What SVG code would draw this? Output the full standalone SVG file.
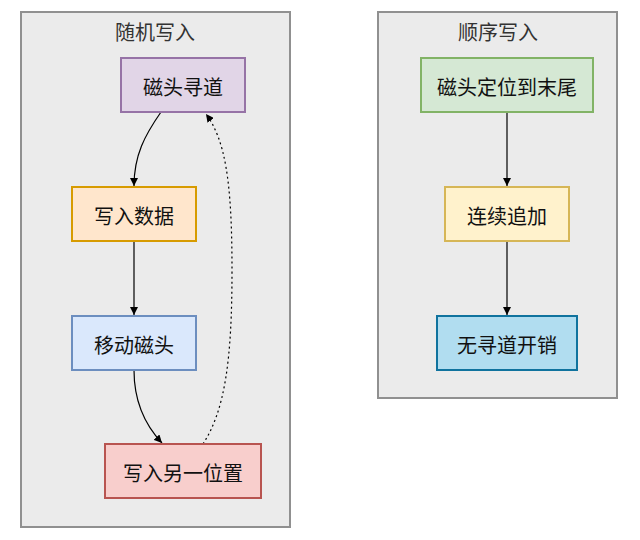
<svg xmlns="http://www.w3.org/2000/svg" width="640" height="540" viewBox="0 0 640 540">
<style>
text{font-family:"Noto Sans CJK SC","Noto Sans",sans-serif;font-size:20px;text-anchor:middle;dominant-baseline:central}
.title{fill:#333}
.lbl{fill:#111}
.cluster{fill:#ebebeb;stroke:#909090;stroke-width:2}
.node rect{stroke-width:2}
.edge{fill:none;stroke:#000;stroke-width:1.2}
</style>
<defs>
<marker id="ah" viewBox="0 0 10 10" refX="10" refY="5" markerWidth="8" markerHeight="8" markerUnits="userSpaceOnUse" orient="auto"><path d="M0,0 L10,5 L0,10 z" fill="#000"/></marker>
</defs>
<g id="cluster-random">
<rect class="cluster" x="21" y="12" width="269" height="515"/>
<text class="title" x="155" y="31">随机写入</text>
</g>
<g id="cluster-seq">
<rect class="cluster" x="378" y="12" width="239" height="386"/>
<text class="title" x="498" y="31">顺序写入</text>
</g>
<g id="edges">
<path class="edge" d="M161,112 C145,135 134,155 134,186" marker-end="url(#ah)"/>
<path class="edge" d="M134,241 L134,315" marker-end="url(#ah)"/>
<path class="edge" d="M134,370 C134,400 145,425 162,443" marker-end="url(#ah)"/>
<path class="edge" d="M203,444 C225,410 232,360 232,270 C232,180 225,140 206,114" stroke-dasharray="2,3" marker-end="url(#ah)"/>
<path class="edge" d="M507,112 L507,186" marker-end="url(#ah)"/>
<path class="edge" d="M507,241 L507,315" marker-end="url(#ah)"/>
</g>
<g id="n1" class="node"><rect x="121" y="58" width="124" height="54" fill="#e1d5e7" stroke="#9673a6"/><text class="lbl" x="183" y="86.5">磁头寻道</text></g>
<g id="n2" class="node"><rect x="72" y="187" width="124" height="54" fill="#ffe6cc" stroke="#d79b00"/><text class="lbl" x="134" y="215.5">写入数据</text></g>
<g id="n3" class="node"><rect x="72" y="316" width="124" height="54" fill="#dae8fc" stroke="#6c8ebf"/><text class="lbl" x="134" y="344.5">移动磁头</text></g>
<g id="n4" class="node"><rect x="105" y="444" width="156" height="54" fill="#f8cecc" stroke="#b85450"/><text class="lbl" x="183" y="472.5">写入另一位置</text></g>
<g id="s1" class="node"><rect x="421" y="58" width="172" height="54" fill="#d5e8d4" stroke="#82b366"/><text class="lbl" x="507" y="86.5">磁头定位到末尾</text></g>
<g id="s2" class="node"><rect x="445" y="187" width="124" height="54" fill="#fff2cc" stroke="#d6b656"/><text class="lbl" x="507" y="215.5">连续追加</text></g>
<g id="s3" class="node"><rect x="437" y="316" width="140" height="54" fill="#b1ddf0" stroke="#10739e"/><text class="lbl" x="507" y="344.5">无寻道开销</text></g>
</svg>
